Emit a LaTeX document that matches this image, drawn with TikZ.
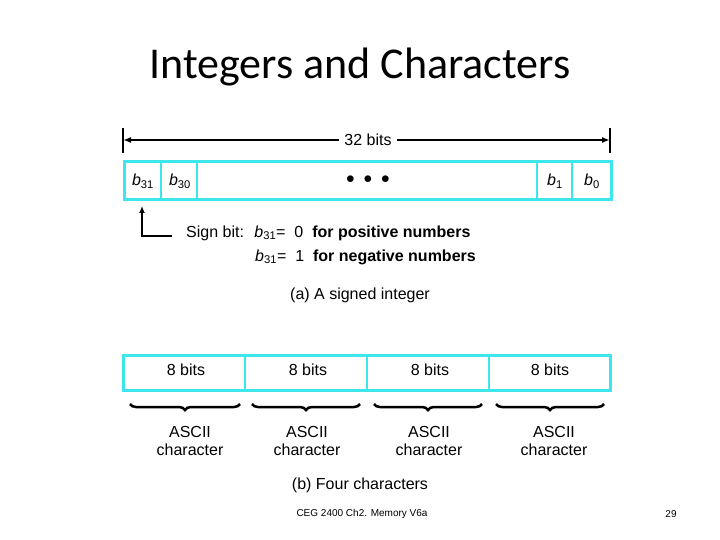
\documentclass[tikz,border=0pt]{standalone}
\usepackage{fontspec}
\setmainfont{Liberation Sans}
\newfontfamily\titlefont{Carlito}
\usetikzlibrary{decorations.pathreplacing,arrows.meta}
\definecolor{cy}{RGB}{60,230,235}
\newcommand{\bv}[1]{\textit{b}\textsubscript{#1}}
\begin{document}
\begin{tikzpicture}[x=1pt,y=-1pt,
  cell/.style={draw=cy,line width=3pt,fill=white},
  lbl/.style={font=\fontsize{16}{18}\selectfont,inner sep=0pt},
  brc/.style={decorate,decoration={brace,amplitude=6pt},line width=2.5pt}]
\useasboundingbox (0,0) rectangle (720,540);
\node[font=\titlefont\fontsize{44}{50}\selectfont] (title) at (360,67) {Integers and Characters};
% 32 bits
\node[lbl,fill=white,inner xsep=5pt] (n32) at (368,140) {32 bits};
\coordinate (L) at (123,140); \coordinate (R) at (610,140);
\draw[line width=2.5pt] (123,128) -- (123,153) (610,128) -- (610,153);
\draw[line width=2pt,-{Latex[length=8pt,width=6pt]}] (n32.west) -- (L);
\draw[line width=2pt,-{Latex[length=8pt,width=6pt]}] (n32.east) -- (R);
% register
\draw[cell] (124,162) rectangle (611,200);
\draw[draw=cy,line width=2.5pt] (161,162)--(161,200) (197,162)--(197,200) (537,162)--(537,200) (572,162)--(572,200);
\node[lbl] (b31) at (143,181) {\bv{31}};
\node[lbl] (b30) at (180,181) {\bv{30}};
\node[lbl] (dots) at (368,180) {$\bullet$\ \ $\bullet$\ \ $\bullet$};
\node[lbl] (b1) at (555,181) {\bv{1}};
\node[lbl] (b0) at (592,181) {\bv{0}};
\coordinate (sc) at (142,236);
\coordinate (sa) at (142,206);
\draw[line width=2.5pt,-{Latex[length=7pt,width=6pt]}] (172,236) -- (sc) -- (sa);
\node[lbl,anchor=west] (s1) at (186,233) {Sign bit: \ \bv{31}= \ 0 \ \textbf{for positive numbers}};
\node[lbl,anchor=west] (s2) at (255,257) {\bv{31}= \ 1 \ \textbf{for negative numbers}};
\node[lbl] (ca) at (360,295) {(a) A signed integer};
% four chars
\draw[cell] (123,355) rectangle (610,390);
\draw[draw=cy,line width=2.5pt] (245,355)--(245,390) (367,355)--(367,390) (489,355)--(489,390);
\foreach \i/\c in {0/186,1/308,2/430,3/550}{
  \node[lbl] (e\i) at (\c,370) {8 bits};
}
\foreach \i/\a/\b/\c in {0/130/240/190,1/252/360/307,2/374/482/429,3/496/604/554}{
  \draw[brc] (\b,404) -- (\a,404);
  \node[lbl,align=center] (t\i) at (\c,441) {ASCII\\character};
}
\node[lbl] (cb) at (360,485) {(b) Four characters};
\node[inner sep=0pt,font=\fontsize{10}{12}\selectfont] (foot) at (362,514) {CEG 2400 Ch2. Memory V6a};
\node[inner sep=0pt,font=\fontsize{10}{12}\selectfont] (pg) at (671,514) {29};
\end{tikzpicture}
\end{document}
